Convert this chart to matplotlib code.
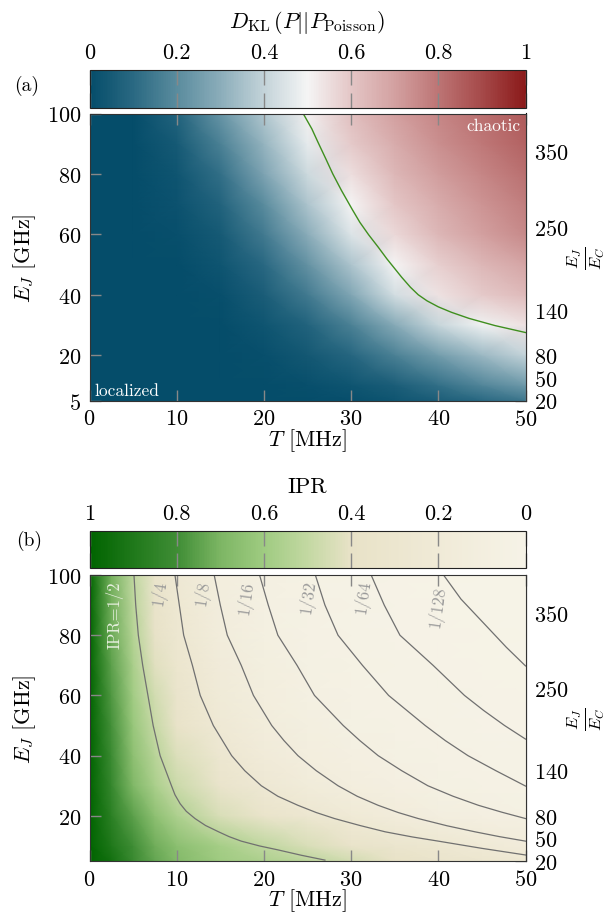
import numpy as np
import matplotlib.pyplot as plt
from matplotlib.colors import LinearSegmentedColormap

plt.rcParams['font.family'] = 'serif'
plt.rcParams['font.serif'] = ['cmr10']
plt.rcParams['mathtext.fontset'] = 'cm'
plt.rcParams['axes.formatter.use_mathtext'] = True
plt.rcParams['font.size'] = 16

# ---------------- data ----------------
# panel (a): D_KL on a coarse grid, rows = EJ, columns = T
T_a = [0, 5, 10, 15, 20, 25, 30, 35, 40, 45, 50]
EJ_a = [5, 10, 20, 30, 40, 50, 60, 70, 80, 90, 100]
dkl = [
    [0, 0, 0, 0, 0, 0, 0.01, 0.03, 0.06, 0.10, 0.14],
    [0, 0, 0, 0, 0, 0.01, 0.03, 0.06, 0.12, 0.18, 0.24],
    [0, 0, 0, 0, 0.01, 0.04, 0.09, 0.17, 0.25, 0.33, 0.40],
    [0, 0, 0, 0, 0.03, 0.08, 0.17, 0.29, 0.41, 0.49, 0.54],
    [0, 0, 0, 0.01, 0.06, 0.15, 0.28, 0.43, 0.54, 0.59, 0.63],
    [0, 0, 0, 0.03, 0.10, 0.22, 0.36, 0.50, 0.58, 0.64, 0.69],
    [0, 0, 0.01, 0.05, 0.15, 0.30, 0.45, 0.56, 0.64, 0.70, 0.75],
    [0, 0, 0.02, 0.08, 0.20, 0.36, 0.50, 0.60, 0.67, 0.73, 0.78],
    [0, 0, 0.03, 0.12, 0.27, 0.42, 0.55, 0.64, 0.71, 0.76, 0.81],
    [0, 0, 0.05, 0.17, 0.32, 0.47, 0.59, 0.67, 0.74, 0.79, 0.84],
    [0, 0, 0.08, 0.23, 0.37, 0.51, 0.62, 0.70, 0.76, 0.81, 0.86],
]
# green transition line (T, EJ)
line_T = [24.5, 25.5, 26.2, 27.1, 27.9, 28.9, 30.1, 31.0, 32.0, 33.1, 34.1,
          35.8, 36.8, 37.7, 38.7, 40.0, 41.5, 43.5, 46.5, 50.0]
line_EJ = [100, 94.9, 90.5, 85.0, 80.0, 74.5, 68.4, 64.0, 59.9, 55.8, 51.9,
           45.8, 42.5, 40.0, 38.0, 36.0, 34.2, 32.2, 29.8, 27.5]

# panel (b): IPR on a coarse grid
T_b = [0, 2.5, 5, 7.5, 10, 15, 20, 25, 30, 35, 40, 45, 50]
EJ_b = [5, 10, 20, 30, 40, 50, 60, 70, 80, 90, 100]
ipr = [
    [1.0, 0.94, 0.82, 0.74, 0.68, 0.60, 0.56, 0.52, 0.46, 0.40, 0.34, 0.30, 0.26],
    [1.0, 0.90, 0.80, 0.72, 0.66, 0.58, 0.51, 0.44, 0.37, 0.32, 0.27, 0.21, 0.15],
    [1.0, 0.86, 0.75, 0.65, 0.56, 0.44, 0.35, 0.28, 0.21, 0.145, 0.105, 0.079, 0.059],
    [1.0, 0.83, 0.69, 0.57, 0.48, 0.34, 0.24, 0.165, 0.113, 0.081, 0.058, 0.043, 0.031],
    [1.0, 0.81, 0.65, 0.53, 0.43, 0.28, 0.18, 0.115, 0.079, 0.055, 0.039, 0.028, 0.021],
    [1.0, 0.79, 0.62, 0.49, 0.38, 0.23, 0.137, 0.088, 0.058, 0.040, 0.028, 0.019, 0.013],
    [1.0, 0.77, 0.59, 0.46, 0.34, 0.19, 0.11, 0.068, 0.045, 0.030, 0.020, 0.013, 0.009],
    [1.0, 0.75, 0.57, 0.42, 0.31, 0.17, 0.094, 0.056, 0.035, 0.023, 0.015, 0.011, 0.0075],
    [1.0, 0.73, 0.54, 0.39, 0.28, 0.14, 0.076, 0.045, 0.027, 0.016, 0.012, 0.008, 0.006],
    [1.0, 0.72, 0.52, 0.37, 0.26, 0.125, 0.067, 0.039, 0.023, 0.014, 0.0095, 0.0065, 0.0045],
    [1.0, 0.71, 0.51, 0.35, 0.24, 0.11, 0.059, 0.034, 0.020, 0.0125, 0.008, 0.0057, 0.0039],
]
# IPR contour lines (T, EJ)
contour_labels = ['IPR=1/2', '1/4', '1/8', '1/16', '1/32', '1/64', '1/128']
contour_T = [
    [5.1, 5.3, 5.6, 6.1, 6.7, 7.3, 8.1, 9.4, 9.8, 10.4, 11.1, 12.1, 13.3, 14.8,
     16.0, 17.4, 19.5, 21.6, 24.3, 27.0],
    [9.8, 10.3, 10.8, 11.8, 12.7, 14.2, 16.3, 17.8, 19.7, 21.6, 23.9, 26.0, 28.1,
     31.0, 33.9, 37.0, 40.0, 45.0, 50.0],
    [14.3, 15.0, 15.8, 17.4, 18.8, 20.9, 22.3, 23.9, 26.0, 28.5, 30.7, 33.1, 35.4,
     37.7, 41.0, 44.2, 47.0, 50.0],
    [19.5, 20.5, 21.6, 23.8, 25.8, 29.1, 31.0, 33.1, 35.8, 38.8, 41.7, 44.6, 47.3, 50.0],
    [25.9, 27.0, 28.5, 31.3, 34.3, 38.5, 40.8, 43.4, 46.6, 50.0],
    [32.3, 33.8, 35.6, 39.4, 43.0, 45.2, 47.6, 50.0],
    [40.6, 42.6, 45.3, 47.8, 50.0],
]
contour_EJ = [
    [100, 90, 80, 70, 60, 50, 40, 30, 27, 24, 21.5, 19.1, 16.8, 14.7,
     13.1, 11.6, 10.0, 8.7, 6.9, 5.3],
    [100, 90, 80, 70, 60, 50, 40, 35, 30, 26.5, 23.5, 21.1, 19.1,
     16.8, 14.7, 13.0, 11.6, 9.2, 7.0],
    [100, 90, 80, 70, 60, 50, 45, 40, 35, 30, 26.5, 23.5, 21.1,
     19.1, 16.7, 14.7, 13.1, 11.6],
    [100, 90, 80, 70, 60, 50, 45, 40, 35, 30, 26.5, 23.5, 21.2, 19.1],
    [100, 90, 80, 70, 60, 50, 45, 40, 35, 29.9],
    [100, 90, 80, 70, 60, 55, 50, 45.5],
    [100, 92, 83.7, 76, 69.8],
]
label_T = [2.9, 8.0, 12.9, 17.9, 25.0, 31.4, 39.9]
label_EJ = [87, 94.3, 94.3, 92.7, 93.1, 93.0, 89.7]

EC = 0.25  # GHz, E_J/E_C = 4 E_J
ratio_ticks = [20, 50, 80, 140, 250, 350]

# ---------------- colormaps ----------------
dkl_cmap = LinearSegmentedColormap.from_list('dkl', [
    (0.0, '#054d6a'), (0.1, '#2a6982'), (0.2, '#5a8c9e'), (0.3, '#8badba'),
    (0.4, '#c3d3d9'), (0.5, '#f5f5f5'), (0.6, '#e4c6c6'), (0.7, '#d3a1a1'),
    (0.8, '#bd7575'), (0.9, '#a64a4a'), (1.0, '#8b1a1a')])
ipr_cmap = LinearSegmentedColormap.from_list('ipr', [
    (0.0, '#f6f3e7'), (0.2, '#f0ead7'), (0.4, '#e8e2c7'), (0.5, '#c3d8a2'),
    (0.6, '#9fcb81'), (0.7, '#7db664'), (0.8, '#3f8d35'), (1.0, '#006400')])

fig = plt.figure(figsize=(6.08, 9.2), dpi=100)
W, H = 608, 920


def box(x0, y0, x1, y1):
    return [x0 / W, 1 - y1 / H, (x1 - x0) / W, (y1 - y0) / H]


ax_a = fig.add_axes(box(89.5, 114.5, 525.5, 401.5))
cax_a = fig.add_axes(box(89.5, 71, 525.5, 109))
ax_b = fig.add_axes(box(89.5, 576, 525.5, 862))
cax_b = fig.add_axes(box(89.5, 532, 525.5, 569))

m_a = ax_a.pcolormesh(T_a, EJ_a, np.array(dkl), cmap=dkl_cmap, vmin=0, vmax=1,
                      shading='gouraud')
ax_a.plot(line_T, line_EJ, color='#3f8f1f', lw=1.0)

m_b = ax_b.pcolormesh(T_b, EJ_b, np.array(ipr), cmap=ipr_cmap, vmin=0, vmax=1,
                      shading='gouraud')
for ct, ce in zip(contour_T, contour_EJ):
    ax_b.plot(ct, ce, color='#707070', lw=0.9)
for i, lab in enumerate(contour_labels):
    if i == 0:
        ax_b.text(label_T[i], label_EJ[i], lab, rotation=90, color='#e6efde',
                  fontsize=12, ha='center', va='center')
    else:
        ax_b.text(label_T[i], label_EJ[i], lab, rotation=82, color='#999999',
                  fontsize=12, ha='center', va='center')

ax_a.text(49.4, 96, 'chaotic', color='white', fontsize=12.5, ha='right', va='center')
ax_a.text(0.6, 8.5, 'localized', color='white', fontsize=12.5, ha='left', va='center')

for ax, yt in [(ax_a, [5, 20, 40, 60, 80, 100]), (ax_b, [20, 40, 60, 80, 100])]:
    ax.set_xlim(0, 50)
    ax.set_ylim(5, 100)
    ax.set_xticks([0, 10, 20, 30, 40, 50])
    ax.set_yticks(yt)
    ax.tick_params(direction='in', length=8, width=1, color='#888888', top=True,
                   right=False, pad=6)
    ax.set_xlabel(r'$T$ [MHz]', labelpad=-2)
    ax.set_ylabel(r'$E_J$ [GHz]', labelpad=6)
    for s in ax.spines.values():
        s.set_color('#333333')
    sec = ax.secondary_yaxis('right', functions=(lambda e: e / EC, lambda r: r * EC))
    sec.set_yticks(ratio_ticks)
    sec.tick_params(direction='in', length=8, width=1, color='#888888', pad=6)

# right-hand axis titles (E_J / E_C)
for yc in [258, 719]:
    fig.text(586 / W, 1 - yc / H, r'$\frac{E_J}{E_C}$', rotation=90,
             ha='center', va='center', fontsize=17)

for cax, mesh, ticks, labels in [
        (cax_a, m_a, [0, 0.2, 0.4, 0.6, 0.8, 1], ['0', '0.2', '0.4', '0.6', '0.8', '1']),
        (cax_b, m_b, [1, 0.8, 0.6, 0.4, 0.2, 0], ['1', '0.8', '0.6', '0.4', '0.2', '0'])]:
    cb = fig.colorbar(mesh, cax=cax, orientation='horizontal')
    cb.set_ticks(ticks)
    cb.set_ticklabels(labels)
    cax.xaxis.set_ticks_position('both')
    cax.tick_params(direction='in', length=11, width=1, color='#888888', top=True,
                    bottom=True, labeltop=True, labelbottom=False, pad=6)
    cb.outline.set_color('#222222')
cax_b.invert_xaxis()

fig.text(307 / W, 1 - 22 / H, r'$D_{\mathrm{KL}}\,(P||P_{\mathrm{Poisson}})$',
         ha='center', va='center', fontsize=16)
fig.text(307 / W, 1 - 487 / H, 'IPR', ha='center', va='center', fontsize=16)
fig.text(27 / W, 1 - 86 / H, '(a)', ha='center', va='center', fontsize=14)
fig.text(29 / W, 1 - 541 / H, '(b)', ha='center', va='center', fontsize=14)

fig.savefig('out.png', dpi=100)
